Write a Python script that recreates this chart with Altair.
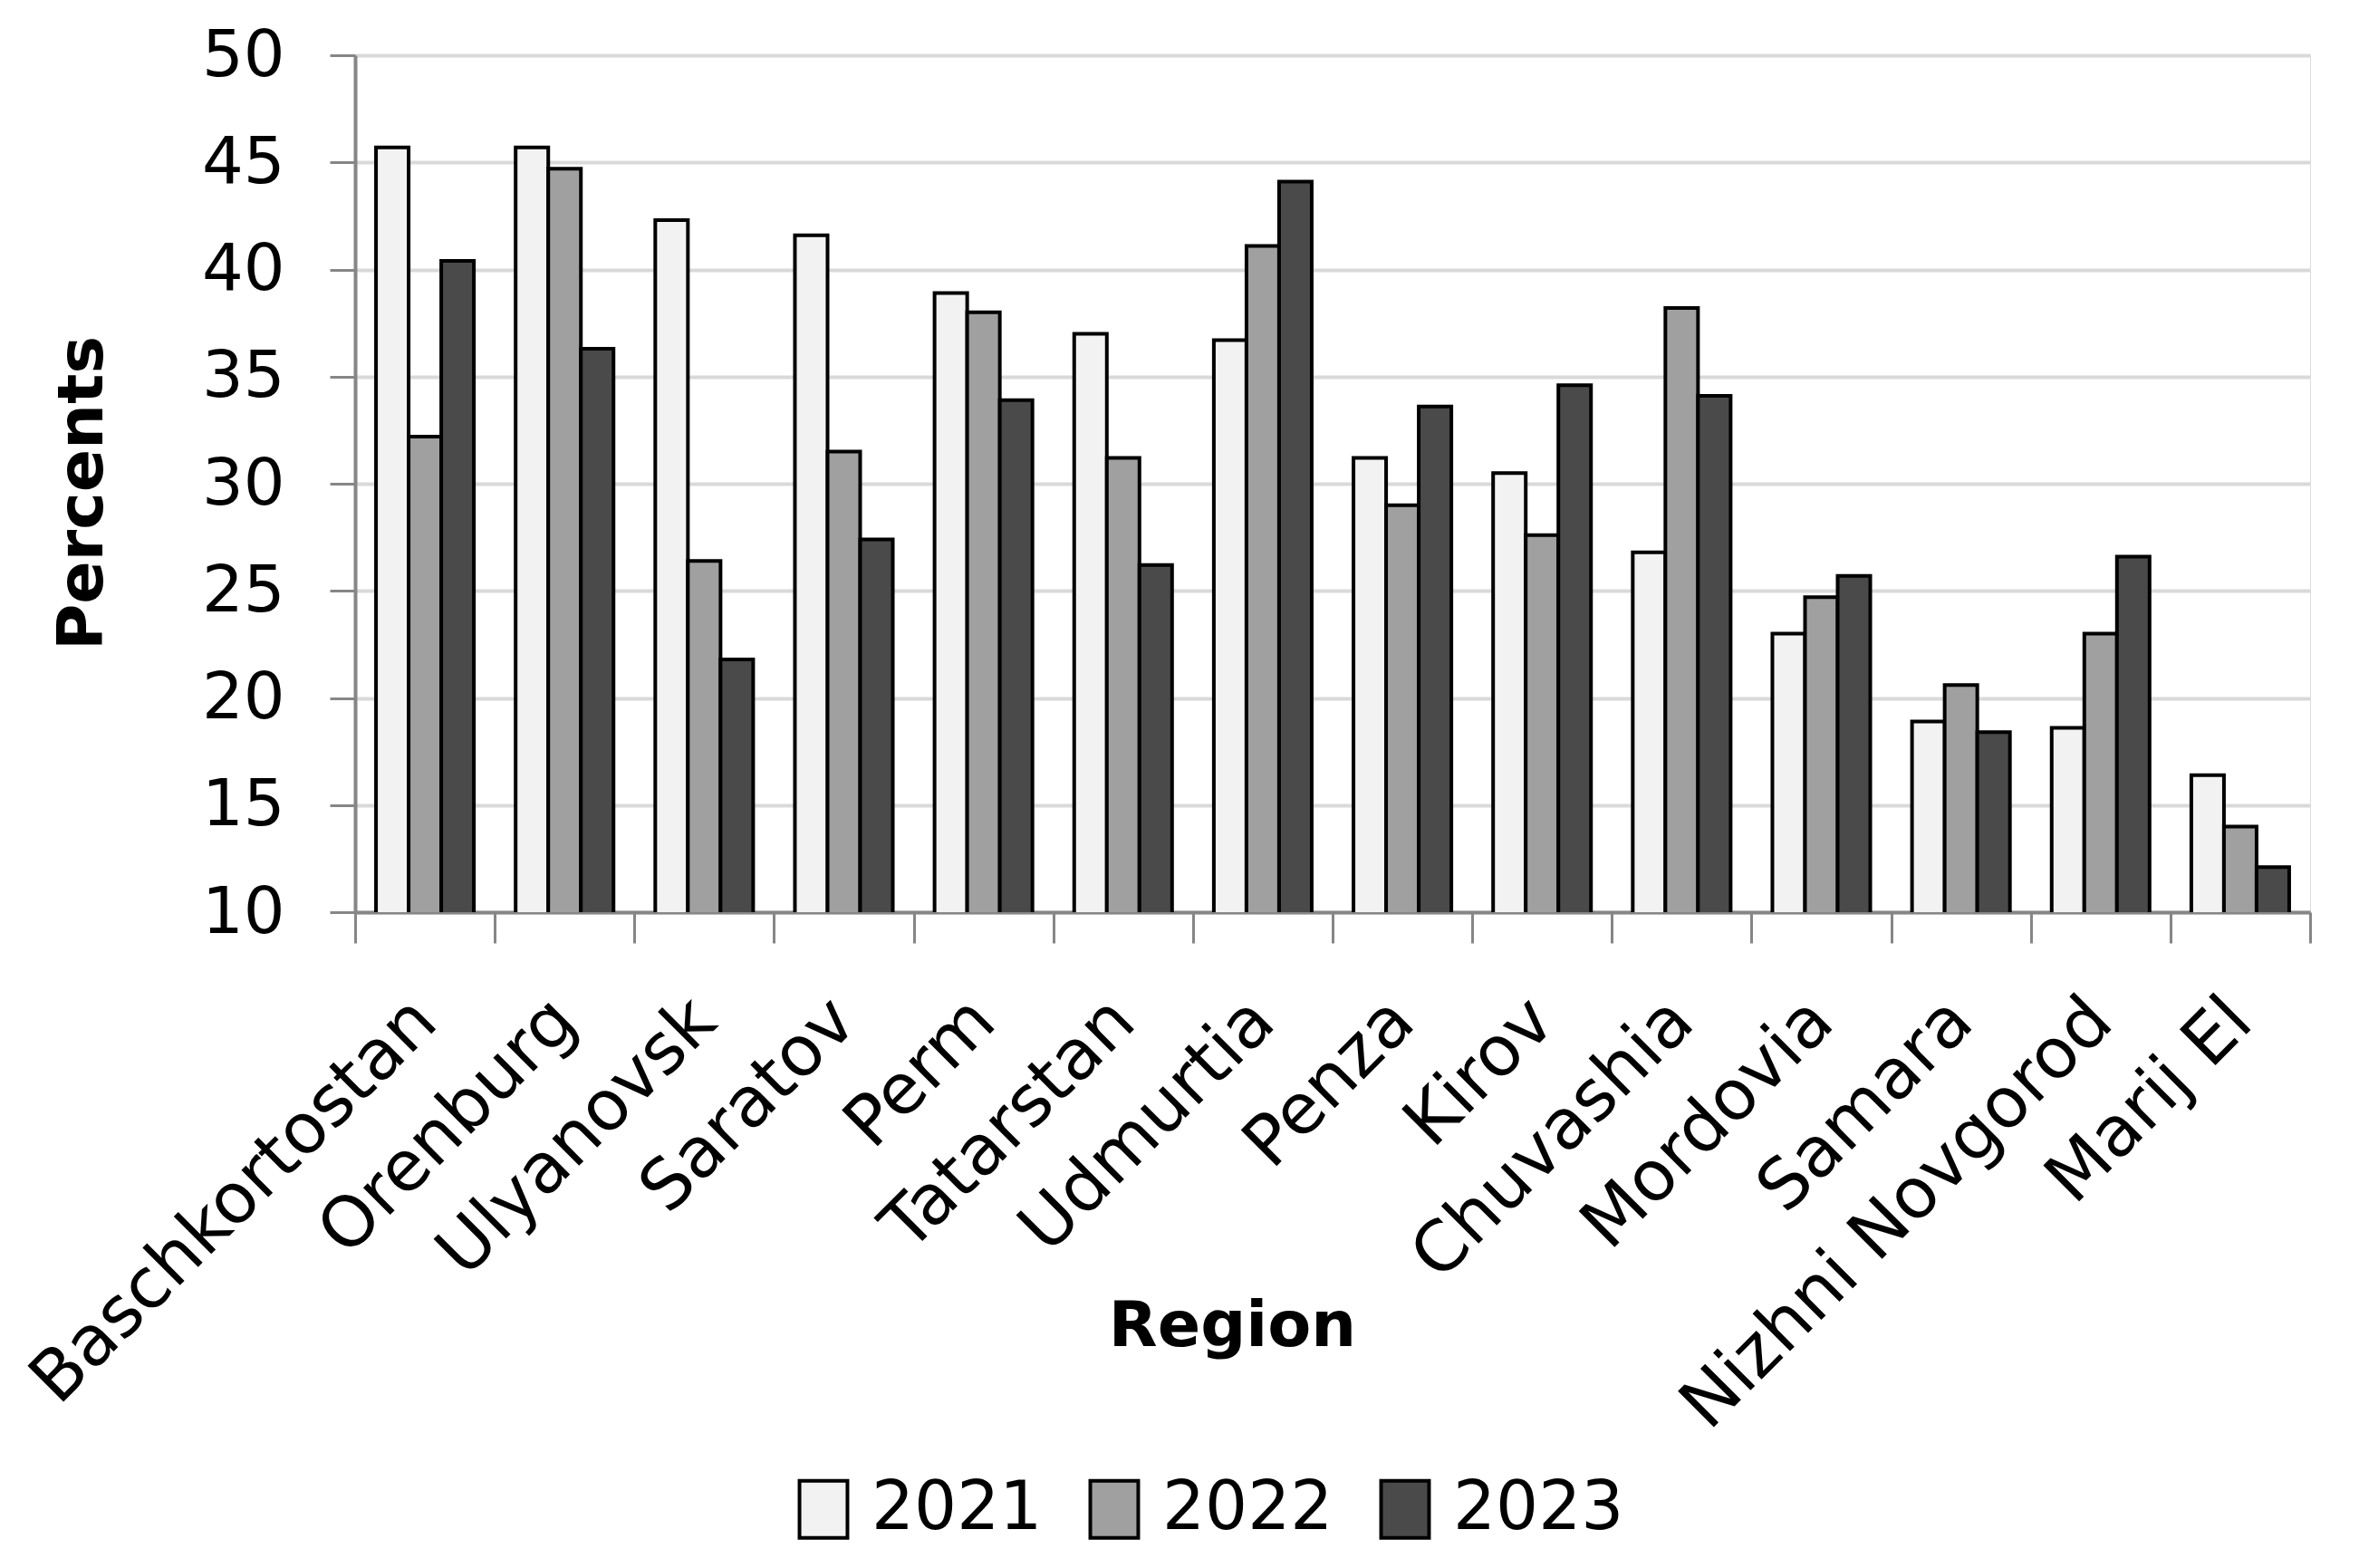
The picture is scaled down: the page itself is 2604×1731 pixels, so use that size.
import altair as alt
import pandas as pd

regions = ["Baschkortostan", "Orenburg", "Ulyanovsk", "Saratov", "Perm", "Tatarstan",
           "Udmurtia", "Penza", "Kirov", "Chuvashia", "Mordovia", "Samara",
           "Nizhni Novgorod", "Marij El"]
years = ["2021", "2022", "2023"]
v2021 = [45.7, 45.7, 42.3, 41.6, 38.9, 37.0, 36.7, 31.2, 30.5, 26.8, 23.0, 18.9, 18.6, 16.4]
v2022 = [32.2, 44.7, 26.4, 31.5, 38.0, 31.2, 41.1, 29.0, 27.6, 38.2, 24.7, 20.6, 23.0, 14.0]
v2023 = [40.4, 36.3, 21.8, 27.4, 33.9, 26.2, 44.1, 33.6, 34.6, 34.1, 25.7, 18.4, 26.6, 12.1]
colors = ["#f2f2f2", "#a0a0a0", "#4a4a4a"]

rows = []
for yr, vals in zip(years, [v2021, v2022, v2023]):
    for r, v in zip(regions, vals):
        rows.append({"Region": r, "Year": yr, "Percents": v})
df = pd.DataFrame(rows)

FONT = "DejaVu Sans"

chart = alt.Chart(df).mark_bar(stroke="black", strokeWidth=4, clip=True).encode(
    x=alt.X("Region:N", sort=regions,
            scale=alt.Scale(paddingInner=0, paddingOuter=0),
            axis=alt.Axis(title="Region", labelAngle=315, labelAlign="right",
                          labelBaseline="middle", labelFontSize=77, labelFont=FONT,
                          labelColor="black", labelPadding=74, labelLimit=0,
                          tickBand="extent", tickSize=34, tickWidth=3, tickColor="#868686",
                          domainColor="#868686", domainWidth=4,
                          titleFontSize=70, titleFont=FONT, titleFontWeight="bold",
                          titleColor="black", titleX=968, titleY=457,
                          titleAlign="center", titleBaseline="middle",
                          grid=False)),
    xOffset=alt.XOffset("Year:N", sort=years,
                        scale=alt.Scale(paddingInner=0, paddingOuter=0.64)),
    y=alt.Y("Percents:Q",
            scale=alt.Scale(domain=[10, 50], zero=False, nice=False),
            axis=alt.Axis(title="Percents", values=[10, 15, 20, 25, 30, 35, 40, 45, 50],
                          labelFontSize=72, labelFont=FONT, labelColor="black",
                          labelPadding=50, tickSize=28, tickWidth=3, tickColor="#868686",
                          domainColor="#868686", domainWidth=4,
                          gridColor="#d9d9d9", gridWidth=4,
                          titleFontSize=70, titleFont=FONT, titleFontWeight="bold",
                          titleColor="black", titleX=-301, titleY=483,
                          titleAngle=270, titleAlign="center", titleBaseline="middle")),
    fill=alt.Fill("Year:N", sort=years,
                  scale=alt.Scale(domain=years, range=colors),
                  legend=alt.Legend(title=None, orient="none", direction="horizontal",
                                    legendX=480, legendY=1568,
                                    symbolType="M-0.84,-1H0.84V1H-0.84Z",
                                    symbolSize=3969,
                                    symbolStrokeColor="black", symbolStrokeWidth=4,
                                    labelFontSize=74, labelFont=FONT, labelColor="black",
                                    labelLimit=0, labelOffset=16, columnPadding=42)),
).properties(
    width=2158, height=946,
    autosize=alt.AutoSizeParams(type="none"),
    padding={"left": 384, "top": 53, "right": 40, "bottom": 700},
).configure_view(stroke=None).configure(background="white")

chart.save("out.html", embed_options={"renderer": "svg", "actions": False})
